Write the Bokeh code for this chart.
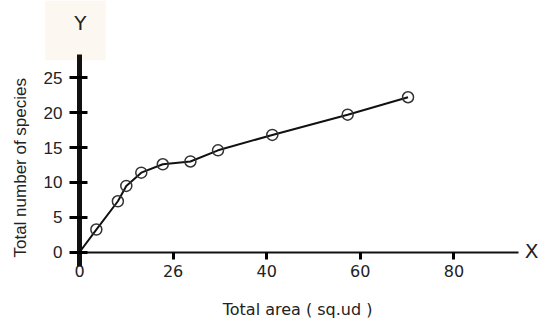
import math
from bokeh.plotting import figure
from bokeh.models import FixedTicker, Label, BoxAnnotation, Range1d
from bokeh.embed import file_html
from bokeh.resources import INLINE

# data
area = [0, 3.6, 8.2, 10.0, 13.2, 17.8, 23.7, 29.6, 41.2, 57.3, 70.2]
species = [0, 3.25, 7.3, 9.5, 11.4, 12.6, 13.0, 14.6, 16.8, 19.7, 22.2]
x_ticks = [0, 20, 40, 60, 80]
x_tick_labels = ["0", "26", "40", "60", "80"]
y_ticks = [0, 5, 10, 15, 20, 25]

W, H = 538, 323
p = figure(width=W, height=H, output_backend="svg", toolbar_location=None,
           x_range=Range1d(-16.88, 98.08), y_range=Range1d(-10.21, 36.06),
           min_border_left=0, min_border_right=0, min_border_top=0, min_border_bottom=0)
p.outline_line_color = None
p.grid.visible = False
p.background_fill_color = "white"
p.border_fill_color = "white"

p.add_layout(BoxAnnotation(left=-7.3, right=5.6, bottom=27.5, top=36.06,
                           fill_color="#fdf7f2", fill_alpha=1, line_color=None,
                           level="underlay"))

tickfont = "Liberation Sans"

xa = p.xaxis[0]
xa.fixed_location = 0
xa.bounds = (-1.9, 93.8)
xa.ticker = FixedTicker(ticks=x_ticks)
xa.major_label_overrides = {t: l for t, l in zip(x_ticks, x_tick_labels)}
xa.axis_line_width = 2
xa.axis_line_color = "#111111"
xa.major_tick_in = 0
xa.major_tick_out = 7
xa.major_tick_line_width = 3
xa.minor_tick_line_color = None
xa.major_label_standoff = 6
xa.major_label_text_font = "DejaVu Sans"
xa.major_label_text_font_size = "16px"
xa.major_label_text_color = "#222222"

ya = p.yaxis[0]
ya.fixed_location = 0
ya.bounds = (-2.0, 28.3)
ya.ticker = FixedTicker(ticks=y_ticks)
ya.axis_line_width = 5
ya.axis_line_color = "#111111"
ya.major_tick_in = 8
ya.major_tick_out = 10
ya.major_tick_line_width = 3
ya.minor_tick_line_color = None
ya.major_label_standoff = 7
ya.major_label_text_font = tickfont
ya.major_label_text_font_size = "17px"
ya.major_label_text_color = "#222222"

p.line(area, species, line_color="#111111", line_width=2)
p.scatter(area[1:], species[1:], marker="circle", size=11, fill_color=None,
          line_color="#333333", line_width=1.5)

p.add_layout(Label(x=0.2, y=32.9, text="Y", text_align="center", text_baseline="middle",
                   text_font="DejaVu Sans", text_font_size="20px", text_color="#222222"))
p.add_layout(Label(x=96.6, y=0.2, text="X", text_align="center", text_baseline="middle",
                   text_font="DejaVu Sans", text_font_size="20px", text_color="#222222"))
p.add_layout(Label(x=46.6, y=-8.2, text="Total area ( sq.ud )", text_align="center",
                   text_baseline="middle", text_font="DejaVu Sans", text_font_size="16px",
                   text_color="#222222"))
p.add_layout(Label(x=-12.6, y=12.1, text="Total number of species", text_align="center",
                   text_baseline="middle", angle=math.pi / 2, text_font=tickfont,
                   text_font_size="17px", text_color="#222222"))

open("out.html", "w").write(file_html(p, INLINE))
